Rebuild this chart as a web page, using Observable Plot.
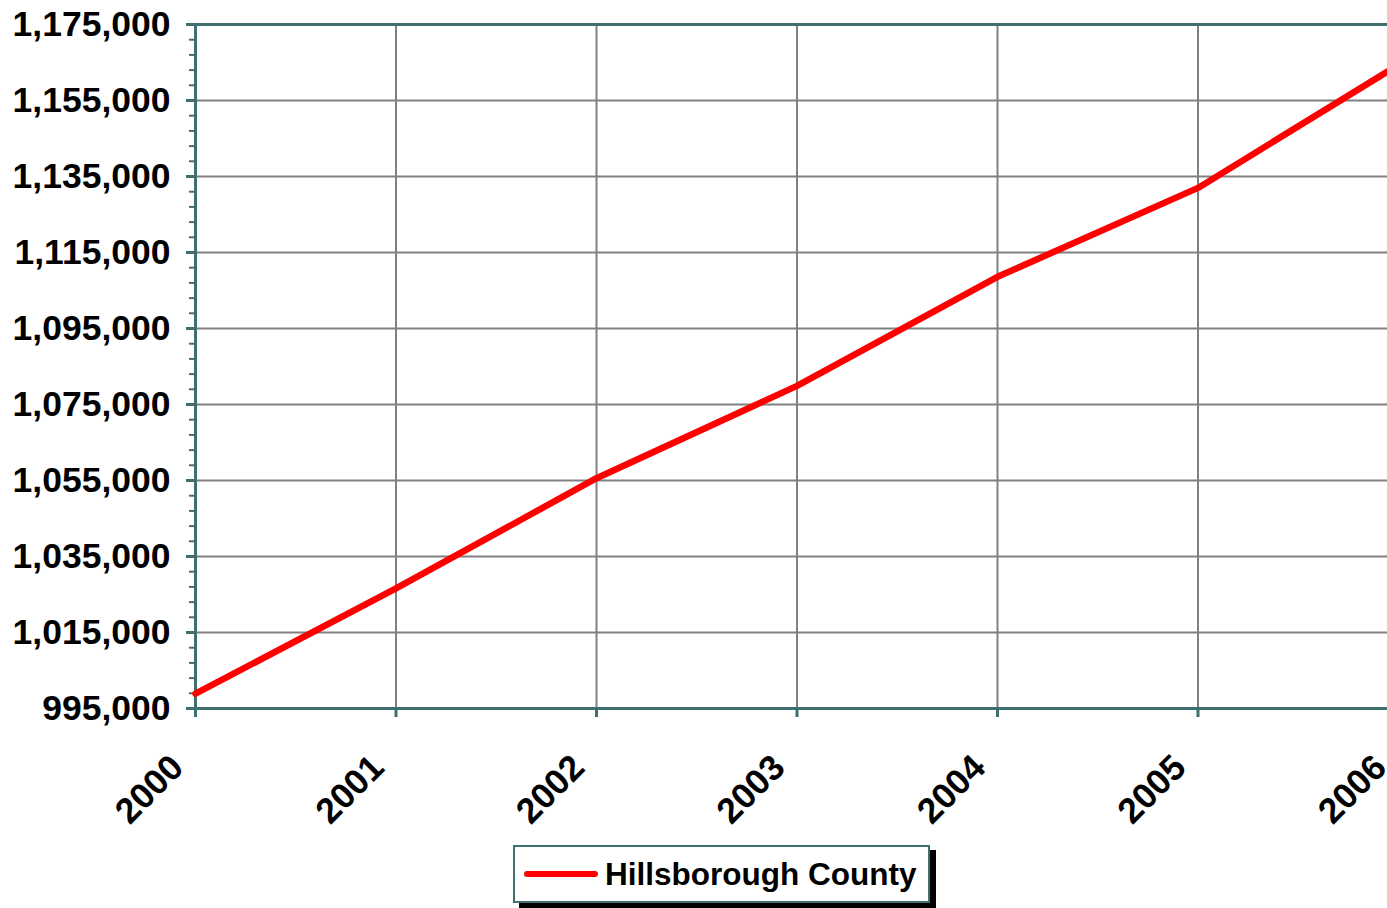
<!DOCTYPE html>
<html><head><meta charset="utf-8">
<script src="https://cdn.jsdelivr.net/npm/d3@7"></script>
<script src="https://cdn.jsdelivr.net/npm/@observablehq/plot@0.6"></script>
<style>
html,body{margin:0;padding:0;background:#fff;overflow:hidden;}
#wrap{position:relative;width:1387px;height:908px;overflow:hidden;}
#chart{position:absolute;left:0;top:0;}
#chart svg{max-width:none !important;}
#legend{position:absolute;left:513px;top:845px;width:413px;height:54px;border:2px solid #3f6f6f;background:#fff;box-shadow:6px 5px 0 #000;font:bold 31.5px "Liberation Sans",Arial,sans-serif;color:#000;display:flex;align-items:center;box-sizing:content-box;white-space:nowrap;}
#legend .sw{display:inline-block;width:74px;height:6px;border-radius:3px;background:#ff0000;margin-left:9px;margin-right:7px;flex:none;}
</style></head><body>
<div id="wrap"><div id="chart"></div><div id="legend"><span class="sw"></span><span id="lgtext"></span></div></div>
<script>
const years = [2000, 2001, 2002, 2003, 2004, 2005, 2006];
const population = [998900, 1026600, 1055600, 1079900, 1108600, 1132000, 1164400];
const seriesName = "Hillsborough County";
const yTicks = [995000, 1015000, 1035000, 1055000, 1075000, 1095000, 1115000, 1135000, 1155000, 1175000];
const yMinorStep = 4000;

const teal = "#3f6f6f";
const data = years.map((year, i) => ({year, population: population[i]}));
const minorTicks = d3.range(yTicks[0], yTicks[yTicks.length - 1] + 1, yMinorStep);
document.getElementById("lgtext").textContent = seriesName;

const chart = Plot.plot({
  width: 1400,
  height: 840,
  marginLeft: 195,
  marginRight: 2,
  marginTop: 24,
  marginBottom: 132,
  x: {type: "linear", domain: [years[0], years[years.length - 1]], label: null},
  y: {domain: [yTicks[0], yTicks[yTicks.length - 1]], label: null},
  style: {fontFamily: "'Liberation Sans', Arial, sans-serif", fontWeight: "bold", fontSize: "35.5px", color: "#000", background: "#fff", overflow: "visible", maxWidth: "none"},
  marks: [
    Plot.gridX(years, {stroke: "#808080", strokeOpacity: 1, strokeWidth: 2}),
    Plot.gridY(yTicks, {stroke: "#808080", strokeOpacity: 1, strokeWidth: 2}),
    Plot.ruleY([yTicks[yTicks.length - 1]], {stroke: teal, strokeWidth: 3}),
    Plot.ruleY([yTicks[0]], {stroke: teal, strokeWidth: 3}),
    Plot.ruleX([years[0]], {stroke: teal, strokeWidth: 3}),
    Plot.axisY(minorTicks, {tickSize: 6, tickFormat: () => "", stroke: teal, strokeWidth: 2, color: teal, label: null}),
    Plot.axisY(yTicks, {tickSize: 9, tickFormat: () => "", stroke: teal, strokeWidth: 3, color: teal, label: null}),
    Plot.axisY(yTicks, {tickSize: 0, tickPadding: 25, tickFormat: d3.format(","), fill: "#000", label: null}),
    Plot.axisX(years, {tickSize: 9, tickFormat: () => "", stroke: teal, strokeWidth: 3, color: teal, label: null}),
    Plot.axisX(years, {tickSize: 0, tickPadding: 53, dx: -18, tickRotate: -45, tickFormat: d => String(d), fill: "#000", label: null}),
    Plot.line(data, {x: "year", y: "population", stroke: "#ff0000", strokeWidth: 6.5, strokeLinecap: "round", strokeLinejoin: "miter"})
  ]
});
document.getElementById("chart").appendChild(chart);
</script>
</body></html>
